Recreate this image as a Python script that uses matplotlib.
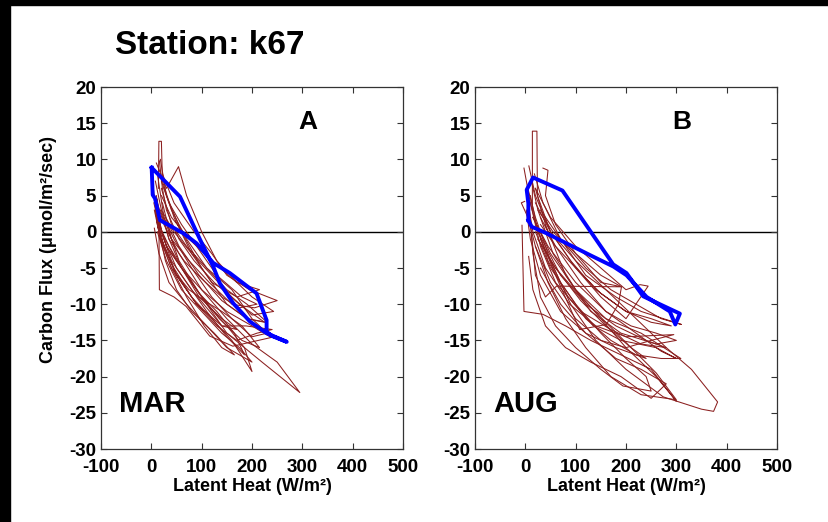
import matplotlib
matplotlib.use("Agg")
import matplotlib.pyplot as plt
from matplotlib.patches import Rectangle

plt.rcParams['font.family'] = ['Liberation Sans', 'DejaVu Sans']
plt.rcParams['axes.unicode_minus'] = False

# axis setup
x_ticks = [-100, 0, 100, 200, 300, 400, 500]
y_ticks = [-30, -25, -20, -15, -10, -5, 0, 5, 10, 15, 20]

# MAR daily loops (latent heat W/m2, carbon flux umol/m2/s)
mar_le = [
    [8, 20, 45, 80, 120, 160, 200, 185, 150, 110, 70, 35, 15],
    [12, 25, 55, 100, 150, 220, 295, 250, 200, 150, 100, 55, 25, 12],
    [14, 15, 20, 22, 45, 80, 120, 170, 215, 170, 120, 75, 40, 20],
    [15, 16, 45, 69, 116, 162, 238, 200, 150, 100, 60, 30],
    [10, 30, 54, 70, 100, 130, 170, 200, 243, 200, 160, 120, 80, 45, 20],
    [5, 25, 50, 90, 140, 188, 240, 210, 170, 130, 90, 50, 20],
    [18, 30, 60, 100, 150, 190, 230, 190, 150, 110, 70, 40, 20],
    [6, 15, 35, 70, 110, 150, 200, 175, 140, 100, 60, 30, 12],
    [20, 35, 60, 90, 130, 180, 210, 175, 140, 100, 65, 35, 18],
    [10, 20, 40, 70, 110, 150, 185, 165, 130, 95, 60, 30, 12],
    [25, 40, 70, 110, 160, 200, 230, 200, 160, 120, 80, 45, 25],
    [8, 20, 35, 60, 95, 140, 170, 140, 110, 80, 50, 25, 10],
    [16, 22, 30, 55, 85, 125, 175, 225, 190, 140, 95, 55, 28],
    [4, 12, 28, 50, 80, 125, 165, 140, 105, 70, 40, 18, 6],
    [12, 18, 40, 75, 105, 140, 180, 215, 180, 135, 90, 50, 20],
    [22, 45, 85, 120, 150, 195, 250, 205, 160, 115, 75, 40, 22],
]
mar_fc = [
    [3, -1, -5, -9, -12, -15, -19.3, -16, -13, -10, -6, -2, 1],
    [8, 2, -4, -9, -14, -18, -22.2, -18, -15.5, -12, -8, -3, 1, 4],
    [6, 12.5, 12.5, 7, 2, -3, -7, -9, -8, -7, -4, -1, 2, 5],
    [2, -8, -9, -10.3, -14.4, -15.8, -14.6, -13, -11, -8, -5, -2],
    [9.5, 6, 9, 5, 0, -4, -7, -9, -11, -11.5, -9, -6, -3, 0, 3],
    [4, -2, -6, -10, -13, -13, -13.5, -14, -15, -13, -10, -6, -1],
    [10, 5, 0, -5, -10, -12, -12.5, -10, -8, -5, -2, 1, 6],
    [0.5, -3, -7, -10, -13, -16, -18, -16, -14, -11, -8, -4, 0],
    [7, 4, 1, -2, -6, -9, -10, -10.5, -9, -6.5, -4, -1, 3],
    [5, 0, -4, -7, -11, -14.5, -17, -14, -11, -8.5, -5, -2, 2],
    [6, 3, -1, -5, -8, -12, -14, -14.5, -12, -9, -5, -1, 2],
    [7, 3, -1, -5, -9, -12, -13.5, -13, -10.5, -8, -5, -1, 3],
    [9.8, 6, 3, -1, -4, -7, -10, -12.5, -12, -9.5, -6, -2, 2],
    [6, 1, -4, -8, -11, -14, -17, -16, -13, -9, -5, -1, 3],
    [4.5, -1, -5, -8, -9.5, -11, -13, -16, -15, -12, -8, -4, 0],
    [8, 4, 0, -3, -6, -8, -9.5, -10.5, -10, -7, -4, -1, 4],
]

# AUG daily loops
aug_le = [
    [-6.6, -2.7, 35, 80, 130, 190, 250, 300, 260, 200, 150, 100, 50, 15],
    [14, 14, 23, 24, 50, 90, 140, 200, 250, 290, 250, 200, 150, 100, 60, 30],
    [5, 20, 50, 90, 140, 200, 274, 350, 374, 382, 330, 280, 220, 160, 100, 50, 20],
    [-1.3, -8, 5, 20, 45, 80, 120, 170, 230, 300, 260, 210, 160, 110, 60, 25],
    [7, 20, 50, 100, 150, 200, 244, 228, 200, 150, 100, 50, 20],
    [35, 45, 40, 60, 100, 150, 191, 62, 40, 20, 12],
    [10, 25, 60, 108, 161, 185, 191, 150, 100, 55, 25],
    [3, 15, 40, 88, 140, 200, 295, 250, 200, 150, 100, 50, 20],
    [12, 25, 55, 100, 160, 230, 309, 270, 220, 170, 120, 70, 30],
    [8, 15, 30, 60, 100, 150, 194, 250, 240, 200, 150, 100, 50, 20],
    [2, 10, 30, 70, 120, 180, 240, 210, 160, 110, 60, 25],
    [18, 35, 70, 120, 180, 230, 310, 270, 220, 170, 120, 70, 30],
    [6.6, 15, 40, 80, 130, 190, 250, 280, 230, 180, 120, 70, 30],
    [20, 40, 80, 130, 190, 260, 300, 260, 210, 160, 110, 60, 30],
    [-2.7, 10, 30, 60, 110, 170, 230, 280, 240, 180, 120, 70, 25],
    [10, 22, 45, 85, 135, 190, 260, 300, 270, 220, 160, 100, 45, 15],
]
aug_fc = [
    [0.9, -11, -11.4, -13, -15, -17, -19, -23.4, -20, -16, -12, -8, -3, 2],
    [3, 13.9, 13.9, 5, 0, -4, -8, -11, -12, -13, -12.5, -11, -8.5, -5, -2, 1],
    [6, 2, -4, -10, -15, -19, -22.8, -24.5, -24.8, -23.5, -19, -16, -12, -8, -4, 0, 4],
    [4.2, 4, 2, -2, -7, -12, -16, -20, -22.5, -23.2, -19.5, -16, -12.5, -9, -5, -1],
    [9.1, 5, 0, -5, -9, -12, -7.5, -7.3, -8, -5, -2, 2, 6],
    [8.8, 8.5, 5, 1, -3, -7, -7.6, -7.5, -9, -6, 0],
    [4, 0, -6, -13.5, -12.8, -10, -7.6, -6, -3, 0, 3],
    [5, 0, -5, -10, -13, -14.5, -14.2, -15, -16, -15, -12, -7, -2],
    [7, 3, -3, -8, -12, -14, -17.5, -17.5, -17, -15, -12, -7, -1],
    [3, -3, -9, -13, -16, -19, -21.3, -22, -20, -17.5, -14, -10, -5, 0],
    [3, -1, -6, -11, -14, -16, -17.5, -16, -13, -9.5, -5, -1],
    [8, 4, -1, -6, -9, -11, -12.8, -12, -10, -8, -5, -1, 3],
    [-3.4, -8, -13, -16, -18, -20, -23, -21, -19, -17.5, -14, -10, -5],
    [6, 1, -6, -11, -14, -15.5, -15, -14, -13, -11, -7, -2, 2],
    [8.8, 4, -2, -7, -11, -13.5, -15.5, -16, -15, -13, -10, -6, 0],
    [5, 1, -4, -9, -13, -15, -16, -17.5, -16.5, -14, -11, -7, -2, 2],
]

# monthly mean diurnal cycles (blue)
mar_mean_le = [0.7, 57, 97, 123, 136, 163, 196, 229, 269, 240, 229, 229, 209,
               156, 123, 90, 63.5, 17.2, 7.3, 2.7, 0.7]
mar_mean_fc = [8.85, 4.85, -1.1, -4.8, -7.1, -9.9, -12.4, -14.0, -15.2, -14.4,
               -13.8, -12.2, -8.5, -5.7, -4.3, -1.6, -0.2, 1.6, 4.6, 5.1, 8.85]
aug_mean_le = [6, 12.6, 42, 82, 128, 175, 201, 241, 287, 298, 307, 261, 234,
               201, 174.5, 131, 73.7, 15.3, 2.7, 6, 6]
aug_mean_fc = [1.6, 0.7, -0.2, -1.6, -3.2, -4.8, -6.0, -9.0, -11.0, -12.8,
               -11.3, -9.8, -8.9, -5.7, -4.5, -0.1, 5.7, 7.5, 5.8, 3.9, 1.6]

brown = '#8b1f1f'
blue = '#0000ff'

fig = plt.figure(figsize=(8.29, 5.22), dpi=100)
fig.patches.append(Rectangle((0, 0), 10 / 829, 1, transform=fig.transFigure,
                             color='black', zorder=0))
fig.patches.append(Rectangle((0, 1 - 5 / 522), 1, 5 / 522, transform=fig.transFigure,
                             color='black', zorder=0))

ax1 = fig.add_axes([101 / 829, 1 - 449 / 522, 302 / 829, 362 / 522])
ax2 = fig.add_axes([475 / 829, 1 - 449 / 522, 302 / 829, 362 / 522])

panels = [
    (ax1, mar_le, mar_fc, mar_mean_le, mar_mean_fc, 'A', 'MAR'),
    (ax2, aug_le, aug_fc, aug_mean_le, aug_mean_fc, 'B', 'AUG'),
]

for ax, le, fc, mle, mfc, letter, month in panels:
    ax.axhline(0, color='black', lw=1.0, zorder=1)
    for xs, ys in zip(le, fc):
        ax.plot(xs, ys, color=brown, lw=0.75, zorder=2)
    ax.plot(mle, mfc, color=blue, lw=2.8, zorder=3, solid_joinstyle='round')
    ax.set_xlim(-100, 500)
    ax.set_ylim(-30, 20)
    ax.set_xticks(x_ticks)
    ax.set_yticks(y_ticks)
    ax.tick_params(direction='in', length=4.5, width=0.8, top=True, right=True,
                   labelsize=13.5, color='#333333')
    ax.tick_params(axis='x', pad=7.5)
    ax.tick_params(axis='y', pad=3.5)
    for lab in ax.get_xticklabels() + ax.get_yticklabels():
        lab.set_fontweight('bold')
    for sp in ax.spines.values():
        sp.set_color('#333333')
        sp.set_linewidth(0.9)
    ax.text(311, 15.2, letter, fontsize=19, fontweight='bold', ha='center', va='center')
    ax.text(1, -23.8, month, fontsize=21, fontweight='bold', ha='center', va='center')
    ax.set_xlabel('Latent Heat (W/m²)', fontsize=13, fontweight='bold', labelpad=1)

ax1.set_ylabel('Carbon Flux (μmol/m²/sec)', fontsize=13, fontweight='bold')
ax1.yaxis.set_label_coords(-0.145, 0.55)

fig.text(115 / 829, 1 - 45 / 522, 'Station: k67', fontsize=24, fontweight='bold',
         ha='left', va='center')

fig.savefig('out.png', dpi=100, facecolor='white')
